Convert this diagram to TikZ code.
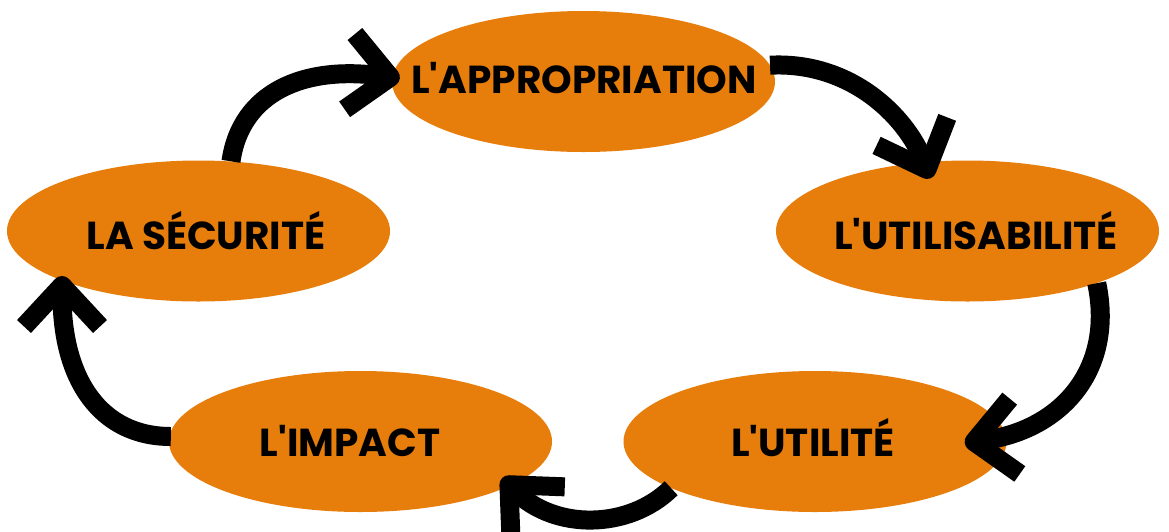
\documentclass[tikz,border=0pt]{standalone}
\usepackage{fontspec}
\setmainfont{Poppins}[BoldFont={Poppins Bold}, Ligatures=TeXOff]
\usetikzlibrary{shapes.geometric,arrows.meta}
\definecolor{blobfill}{RGB}{231,125,10}
\tikzset{
  blob/.style={ellipse, fill=blobfill, minimum width=383pt, minimum height=141pt, inner sep=0pt},
  lbl/.style={font=\fontsize{39}{39}\selectfont\bfseries, text=black, inner sep=0pt},
  flow/.style={line width=19pt, line cap=butt, -{Straight Barb[length=41pt,width=76pt,line cap=butt,line join=round]}}
}
\begin{document}
\begin{tikzpicture}[x=1pt,y=-1pt]
\useasboundingbox (0,0) rectangle (1169,531);
\node[blob] (app) at (583.5,81.5) {};
\node[blob] (uti) at (967.5,231) {};
\node[blob] (ut)  at (815,441.5) {};
\node[blob] (imp) at (360.5,441.5) {};
\node[blob] (sec) at (198.5,231) {};
\node[lbl] (tapp) at (584,78) {L'APPROPRIATION};
\node[lbl] (tuti) at (976,231) {L'UTILISABILITÉ};
\node[lbl] (tut)  at (813,438) {L'UTILITÉ};
\node[lbl] (timp) at (350,441) {L'IMPACT};
\node[lbl] (tsec) at (206,231) {LA SÉCURITÉ};
\draw[flow] (sec.65) .. controls +(10,-70) and +(-95,-13) .. ([shift={(8,-3)}]app.west);
\draw[flow] (app.5) .. controls +(80,-4) and +(-25,-63) .. ([shift={(-37,18)}]uti.north);
\draw[flow] (uti.-22) .. controls +(18,86) and +(97,-13) .. ([shift={(-42,1.5)}]ut.east);
\draw[flow] (ut.198) .. controls +(-43,42) and +(52,52) .. ([shift={(-50,36.5)}]imp.east);
\draw[flow] ([shift={(2,-5)}]imp.west) .. controls +(-70,0) and +(0,104) .. ([shift={(-136.5,45)}]sec.center);
\end{tikzpicture}
\end{document}
